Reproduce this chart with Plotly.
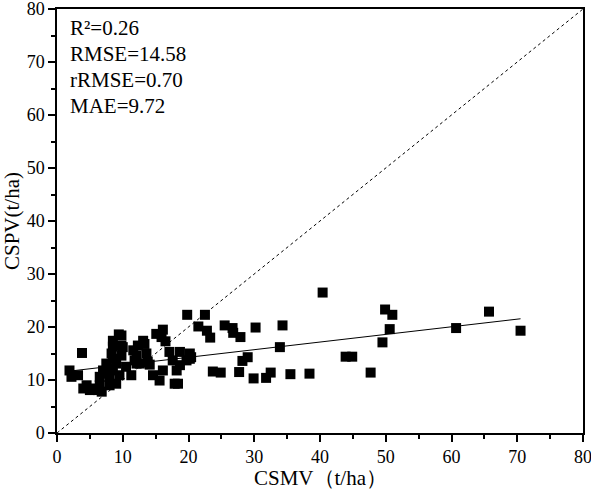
import plotly.graph_objects as go

# CSMV (x) and CSPV (y), t/ha
csmv = [1.9, 2.2, 3.2, 3.8, 4.0, 5.0, 6.2, 4.5, 5.5,
        6.5, 6.5, 7.0, 7.5, 8.0, 8.0, 8.5, 9.0, 9.0, 8.3, 8.5, 8.5, 8.5, 9.4, 9.8, 9.5, 9.8, 10.0,
        11.3, 11.6, 11.8, 12.1, 12.3, 13.1, 13.3, 12.1, 13.6, 13.8, 12.6, 14.1,
        15.1, 15.9, 16.1, 16.5, 17.1, 18.7, 20.2, 17.6, 19.7, 20.4, 16.1, 18.2, 14.6, 15.6, 17.9, 18.4,
        20.2, 18.7, 7.2, 7.8, 10.5, 6.8, 9.8,
        19.8, 22.5, 21.5, 22.8, 23.3, 25.5, 26.7, 26.8, 27.9, 30.2, 34.3, 33.9, 29.0, 28.2,
        23.7, 24.9, 27.7, 29.9, 31.8, 32.5, 35.5, 38.4, 40.4, 43.9, 44.9, 47.7,
        49.5, 49.9, 51.0, 50.6, 60.7, 65.7, 70.5]
cspv = [11.8, 10.6, 10.9, 15.1, 8.4, 8.1, 8.1, 9.0, 8.4,
        9.0, 10.6, 11.8, 13.1, 9.0, 10.6, 11.8, 13.1, 9.3, 15.0, 14.0, 16.3, 17.4, 18.6, 16.5, 10.9, 14.6, 16.2,
        10.9, 15.6, 13.7, 13.1, 16.5, 17.4, 16.8, 14.6, 15.0, 13.4, 13.1, 12.9,
        18.7, 18.1, 19.5, 17.3, 15.3, 15.3, 15.0, 13.7, 13.7, 14.3, 11.8, 11.8, 10.9, 9.9, 9.3, 9.3,
        14.0, 12.8, 11.2, 12.2, 12.5, 7.8, 18.4,
        22.3, 22.3, 20.1, 19.3, 18.0, 20.3, 19.8, 18.9, 18.1, 19.9, 20.3, 16.2, 14.3, 13.6,
        11.6, 11.4, 11.5, 10.3, 10.4, 11.4, 11.1, 11.2, 26.5, 14.4, 14.4, 11.4,
        17.1, 23.3, 22.3, 19.6, 19.8, 22.9, 19.3]

# fitted regression line parameters
fit_slope = 0.144
fit_intercept = 11.4

# 1:1 line
one_to_one = [0, 80]

stats_text = ["R²=0.26", "RMSE=14.58", "rRMSE=0.70", "MAE=9.72"]
stats_y = [76.4, 71.5, 66.6, 61.7]

x_title = "CSMV（t/ha）"
y_title = "CSPV(t/ha)"

serif = "Liberation Serif, Times New Roman, serif"

fig = go.Figure()
fig.add_trace(go.Scatter(x=one_to_one, y=one_to_one, mode="lines",
                         line=dict(color="black", width=1, dash="3px,3px"),
                         showlegend=False, hoverinfo="skip"))
xmin, xmax = min(csmv), max(csmv)
fig.add_trace(go.Scatter(x=[xmin, xmax],
                         y=[fit_intercept + fit_slope * xmin, fit_intercept + fit_slope * xmax],
                         mode="lines", line=dict(color="black", width=1),
                         showlegend=False, hoverinfo="skip"))
fig.add_trace(go.Scatter(x=csmv, y=cspv, mode="markers",
                         marker=dict(symbol="square", size=10, color="black",
                                     line=dict(width=0)),
                         showlegend=False))

for t, yv in zip(stats_text, stats_y):
    fig.add_annotation(x=1.6, y=yv, text=t, showarrow=False, xanchor="left",
                       yanchor="middle", xref="x", yref="y",
                       font=dict(family=serif, size=21, color="black"))

# x-axis title placed below the tick labels
fig.add_annotation(x=0.5, y=0, xref="paper", yref="paper", text=x_title,
                   showarrow=False, xanchor="center", yanchor="middle", yshift=-45,
                   font=dict(family=serif, size=21, color="black"))

axis_common = dict(
    range=[0, 80], dtick=10, tick0=0, automargin=False,
    showline=True, linecolor="black", linewidth=1.5, mirror=True,
    showgrid=False, zeroline=False,
    ticks="outside", ticklen=7, tickwidth=1.5, tickcolor="black",
    ticklabeloverflow="allow",
    tickfont=dict(family=serif, size=18, color="black"),
    minor=dict(dtick=5, ticks="outside", ticklen=4, tickwidth=1.5, tickcolor="black", showgrid=False),
)

fig.update_layout(
    width=591, height=493,
    margin=dict(l=57, r=8, t=9, b=60),
    plot_bgcolor="white", paper_bgcolor="white",
    xaxis=dict(**axis_common),
    yaxis=dict(**axis_common,
               title=dict(text=y_title, font=dict(family=serif, size=21, color="black"), standoff=4)),
)

fig.write_html("out.html")
